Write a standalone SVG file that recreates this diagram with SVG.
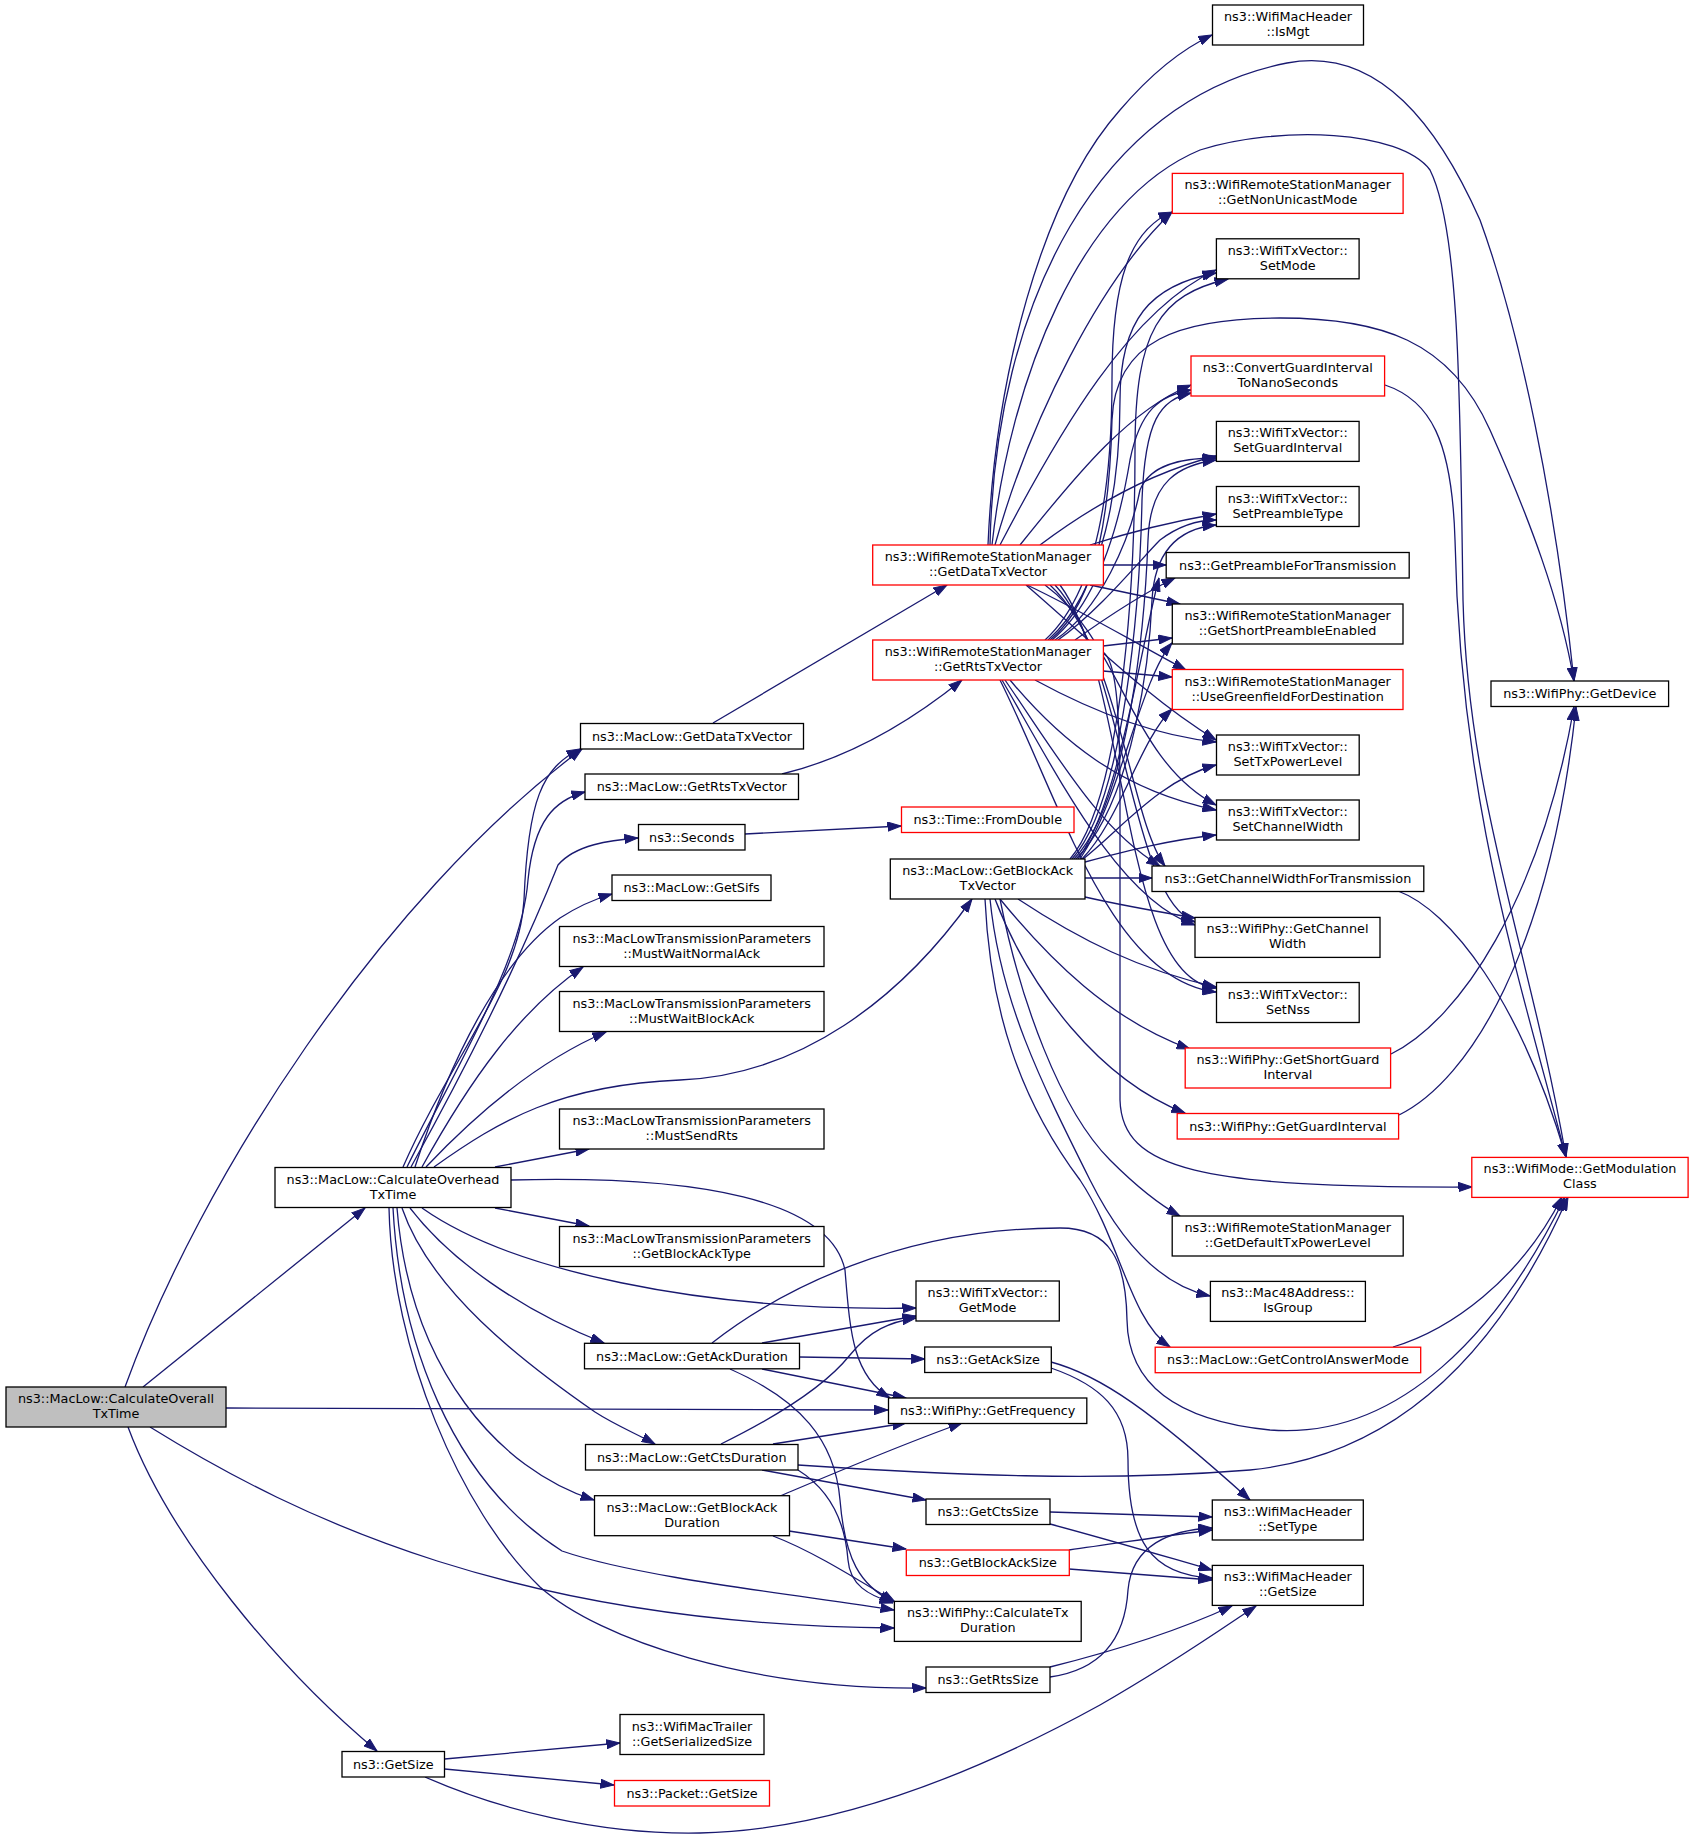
<svg xmlns="http://www.w3.org/2000/svg" width="1693" height="1840" viewBox="0 0 1693 1840">
<style>
.n rect{fill:#fff;stroke:#000;stroke-width:1.3}
.n.r rect{stroke:#f00}
.n.root rect{fill:#bfbfbf}
.n text{font-family:"DejaVu Sans","Liberation Sans",sans-serif;font-size:12.8px;text-anchor:middle;fill:#000}
#edges path{fill:none;stroke:#191970;stroke-width:1.3;marker-end:url(#ah)}
</style>
<defs>
<marker id="ah" markerUnits="userSpaceOnUse" markerWidth="14" markerHeight="10" refX="13.5" refY="5" orient="auto" viewBox="0 0 14 10"><path d="M0,0.4 L13.5,5 L0,9.6 Z" fill="#191970" stroke="#191970" stroke-width="1"/></marker>
</defs>
<rect width="1693" height="1840" fill="#fff"/>
<g id="edges">
<path d="M125,1387 C200,1180 380,900 582,749"/>
<path d="M143,1387 L365,1208"/>
<path d="M226,1408 L888,1410"/>
<path d="M150,1427 C300,1520 520,1625 894,1628"/>
<path d="M128,1427 C170,1540 280,1670 377,1751"/>
<path d="M403,1167 C450,1060 520,980 524,900 C528,800 542,768 580,749"/>
<path d="M407,1167 C460,1060 522,960 528,880 C534,820 555,800 585,792"/>
<path d="M411,1167 C470,1060 520,960 558,865 C575,845 610,840 638,838"/>
<path d="M415,1167 C450,1060 500,960 560,918 C580,905 595,899 612,894"/>
<path d="M422,1167 C470,1080 520,1010 583,967"/>
<path d="M426,1167 C480,1110 540,1060 606,1032"/>
<path d="M434,1167 C500,1120 560,1085 680,1080 C800,1075 900,1000 972,899"/>
<path d="M495,1167 L589,1149"/>
<path d="M511,1180 C700,1175 830,1200 845,1270 C850,1330 852,1375 890,1398"/>
<path d="M495,1208 L589,1226"/>
<path d="M422,1208 C510,1270 700,1312 916,1308"/>
<path d="M410,1208 C450,1260 520,1310 604,1343"/>
<path d="M402,1208 C430,1290 520,1360 595,1412 C615,1425 635,1433 655,1444"/>
<path d="M397,1208 C410,1370 500,1470 594,1500"/>
<path d="M393,1208 C400,1340 450,1480 562,1551 C640,1578 800,1595 894,1610"/>
<path d="M389,1208 C392,1350 460,1510 540,1587 C600,1640 750,1690 926,1688"/>
<path d="M762,1343 L916,1316"/>
<path d="M799,1357 L924.7,1359"/>
<path d="M762,1369 L906,1398"/>
<path d="M730,1369 C800,1400 835,1440 840,1500 C845,1560 860,1585 893,1602"/>
<path d="M712,1343 C780,1290 900,1228 1060,1228 C1110,1228 1126,1260 1127,1320 C1128,1380 1170,1420 1270,1430 C1400,1440 1500,1330 1565,1197"/>
<path d="M721,1444 C790,1410 830,1380 850,1355 C870,1330 890,1322 916,1318"/>
<path d="M773,1444 L906,1423"/>
<path d="M798,1465 C950,1475 1100,1482 1250,1470 C1400,1455 1500,1350 1568,1197"/>
<path d="M762,1470 L926,1500"/>
<path d="M798,1470 C830,1490 845,1520 848,1560 C850,1585 868,1595 893,1603"/>
<path d="M780,1496 C830,1475 900,1445 962,1423"/>
<path d="M789,1531 L906,1549"/>
<path d="M773,1536 C810,1550 850,1575 895,1602"/>
<path d="M1051,1362 C1100,1375 1150,1410 1250,1500"/>
<path d="M1051,1368 C1100,1385 1128,1410 1128,1460 C1128,1540 1150,1575 1212,1578"/>
<path d="M1050,1512 L1212,1517"/>
<path d="M1050,1524 C1110,1540 1160,1555 1212,1570"/>
<path d="M1069,1550 C1120,1543 1170,1535 1212,1530"/>
<path d="M1069,1569 L1212,1580"/>
<path d="M1050,1677 C1100,1670 1125,1640 1128,1590 C1132,1545 1170,1530 1212,1528"/>
<path d="M1050,1667 C1110,1652 1180,1630 1232,1606"/>
<path d="M444.6,1759 L620,1743"/>
<path d="M444.6,1769 L614,1785"/>
<path d="M425,1777 C500,1810 600,1835 700,1833 C850,1830 1000,1760 1100,1705 C1170,1665 1220,1630 1256,1606"/>
<path d="M713,723 L947,585"/>
<path d="M782,774 C840,760 900,730 962,680"/>
<path d="M745,834 L901,826"/>
<path d="M988,545 C995,380 1040,200 1120,110 C1150,75 1180,50 1212,35"/>
<path d="M990,545 C995,300 1100,100 1287,63 C1380,45 1440,130 1480,220 C1520,330 1555,500 1574,681"/>
<path d="M992,545 C1010,380 1080,200 1200,150 C1280,125 1400,130 1430,170 C1460,230 1460,400 1463,600 C1468,800 1530,950 1566,1157"/>
<path d="M995,545 C1030,420 1100,280 1172,212"/>
<path d="M1000,545 C1060,430 1130,310 1216,270"/>
<path d="M1020,545 C1080,470 1130,410 1191,385"/>
<path d="M1040,545 C1100,500 1160,470 1216,456"/>
<path d="M1090,545 C1130,532 1170,522 1216,514"/>
<path d="M1103,565 L1166,565"/>
<path d="M1090,585 L1180,604"/>
<path d="M1027,585 C1080,610 1130,640 1186,670"/>
<path d="M1026,585 C1090,640 1150,700 1216,740"/>
<path d="M1045,585 C1120,640 1130,760 1216,805"/>
<path d="M1050,585 C1120,650 1130,820 1165,866"/>
<path d="M1055,585 C1125,660 1130,900 1195,922"/>
<path d="M1060,585 C1130,680 1120,980 1216,988"/>
<path d="M1045,640 C1100,590 1112,480 1112,380 C1112,280 1130,230 1172,212"/>
<path d="M1048,640 C1105,590 1120,480 1120,400 C1120,320 1150,285 1216,273"/>
<path d="M1050,640 C1100,600 1110,500 1112,420 C1115,340 1180,318 1280,318 C1380,318 1450,340 1490,430 C1530,520 1560,600 1574,681"/>
<path d="M1052,640 C1100,600 1120,520 1130,460 C1140,410 1160,395 1191,390"/>
<path d="M1055,640 C1100,610 1130,540 1140,490 C1150,465 1180,458 1216,458"/>
<path d="M1058,640 C1100,610 1140,560 1160,540 C1180,525 1200,520 1216,520"/>
<path d="M1075,640 C1110,615 1140,595 1175,578"/>
<path d="M1103,646 L1172,638"/>
<path d="M1103,671 L1172,677"/>
<path d="M1035,680 C1090,710 1150,735 1216,742"/>
<path d="M1010,680 C1060,740 1120,790 1216,810"/>
<path d="M1005,680 C1060,760 1100,830 1160,866"/>
<path d="M1002,680 C1060,780 1120,900 1195,925"/>
<path d="M1000,680 C1060,800 1110,980 1216,992"/>
<path d="M1103,652 C1115,660 1120,700 1120,800 L1120,1100 C1122,1170 1200,1188 1472,1187"/>
<path d="M1070,859 C1120,800 1135,600 1135,450 C1135,330 1160,295 1228,279"/>
<path d="M1072,859 C1125,800 1140,600 1142,500 C1145,420 1160,400 1191,393"/>
<path d="M1074,859 C1130,800 1145,620 1148,540 C1150,480 1180,465 1216,460"/>
<path d="M1076,859 C1135,800 1150,650 1152,600 C1155,545 1185,528 1216,525"/>
<path d="M1078,859 C1120,800 1140,650 1159,578"/>
<path d="M1080,859 C1120,800 1140,680 1172,643"/>
<path d="M1082,859 C1120,820 1140,740 1172,709"/>
<path d="M1083,859 C1120,830 1160,780 1216,765"/>
<path d="M1085,862 C1130,850 1170,840 1216,835"/>
<path d="M1085,878 L1152,878"/>
<path d="M1085,897 C1120,905 1160,912 1195,918"/>
<path d="M1018,899 C1080,940 1140,970 1216,987"/>
<path d="M1000,899 C1050,960 1110,1020 1190,1049"/>
<path d="M995,899 C1030,990 1100,1080 1185,1113"/>
<path d="M1000,899 C1020,1000 1060,1110 1110,1160 C1140,1190 1160,1205 1180,1216"/>
<path d="M990,899 C1000,1000 1040,1080 1090,1180 C1120,1240 1160,1285 1210,1296"/>
<path d="M985,899 C990,1010 1020,1100 1080,1180 C1120,1240 1130,1320 1170,1347"/>
<path d="M1385,385 C1430,400 1452,440 1455,540 C1460,800 1520,980 1566,1157"/>
<path d="M1398,891 C1450,910 1520,1000 1566,1157"/>
<path d="M1391,1054 C1460,1020 1540,900 1574,707"/>
<path d="M1399,1115 C1470,1080 1550,950 1576,707"/>
<path d="M1393,1347 C1450,1330 1520,1280 1562,1197"/>
</g>
<g id="n_A" class="n root"><rect x="6" y="1387" width="220" height="40"/><text x="116" y="1403">ns3::MacLow::CalculateOverall</text><text x="116" y="1418">TxTime</text></g>
<g id="n_B" class="n"><rect x="275" y="1167.5" width="236" height="40"/><text x="393" y="1183.5">ns3::MacLow::CalculateOverhead</text><text x="393" y="1198.5">TxTime</text></g>
<g id="n_F" class="n"><rect x="342" y="1751.5" width="102.5" height="25.5"/><text x="393.25" y="1768.75">ns3::GetSize</text></g>
<g id="n_MLGDTV" class="n"><rect x="580.5" y="723.5" width="223" height="25.5"/><text x="692" y="740.75">ns3::MacLow::GetDataTxVector</text></g>
<g id="n_MLGRTV" class="n"><rect x="585" y="774" width="213.5" height="25.5"/><text x="691.75" y="791.25">ns3::MacLow::GetRtsTxVector</text></g>
<g id="n_Seconds" class="n"><rect x="638.5" y="824.5" width="106.5" height="25.5"/><text x="691.75" y="841.75">ns3::Seconds</text></g>
<g id="n_GetSifs" class="n"><rect x="612" y="875" width="159" height="25.5"/><text x="691.5" y="892.25">ns3::MacLow::GetSifs</text></g>
<g id="n_MWNA" class="n"><rect x="559.5" y="926.5" width="264.5" height="40"/><text x="691.75" y="942.5">ns3::MacLowTransmissionParameters</text><text x="691.75" y="957.5">::MustWaitNormalAck</text></g>
<g id="n_MWBA" class="n"><rect x="559.5" y="991.5" width="264.5" height="40"/><text x="691.75" y="1007.5">ns3::MacLowTransmissionParameters</text><text x="691.75" y="1022.5">::MustWaitBlockAck</text></g>
<g id="n_MSR" class="n"><rect x="559.5" y="1109" width="264.5" height="40"/><text x="691.75" y="1125">ns3::MacLowTransmissionParameters</text><text x="691.75" y="1140">::MustSendRts</text></g>
<g id="n_GBAT" class="n"><rect x="559.5" y="1226.5" width="264.5" height="40"/><text x="691.75" y="1242.5">ns3::MacLowTransmissionParameters</text><text x="691.75" y="1257.5">::GetBlockAckType</text></g>
<g id="n_GAD" class="n"><rect x="584.5" y="1343.3" width="215" height="25.5"/><text x="692" y="1360.5">ns3::MacLow::GetAckDuration</text></g>
<g id="n_GCD" class="n"><rect x="585.5" y="1444.5" width="212.5" height="25.5"/><text x="691.75" y="1461.75">ns3::MacLow::GetCtsDuration</text></g>
<g id="n_GBAD" class="n"><rect x="594.5" y="1495.7" width="195" height="40"/><text x="692" y="1511.7">ns3::MacLow::GetBlockAck</text><text x="692" y="1526.7">Duration</text></g>
<g id="n_WMT" class="n"><rect x="620" y="1714.5" width="144" height="40"/><text x="692" y="1730.5">ns3::WifiMacTrailer</text><text x="692" y="1745.5">::GetSerializedSize</text></g>
<g id="n_PGS" class="n r"><rect x="614.5" y="1780.5" width="155" height="25.5"/><text x="692" y="1797.75">ns3::Packet::GetSize</text></g>
<g id="n_G" class="n r"><rect x="872.7" y="545" width="230.7" height="40"/><text x="988" y="561">ns3::WifiRemoteStationManager</text><text x="988" y="576">::GetDataTxVector</text></g>
<g id="n_H" class="n r"><rect x="872.7" y="640" width="230.7" height="40"/><text x="988" y="656">ns3::WifiRemoteStationManager</text><text x="988" y="671">::GetRtsTxVector</text></g>
<g id="n_TFD" class="n r"><rect x="901.5" y="807" width="172.5" height="25.5"/><text x="987.75" y="824.25">ns3::Time::FromDouble</text></g>
<g id="n_I" class="n"><rect x="890.3" y="859" width="194.7" height="40"/><text x="987.65" y="875">ns3::MacLow::GetBlockAck</text><text x="987.65" y="890">TxVector</text></g>
<g id="n_GM" class="n"><rect x="916" y="1281" width="143.3" height="40"/><text x="987.65" y="1297">ns3::WifiTxVector::</text><text x="987.65" y="1312">GetMode</text></g>
<g id="n_GAS" class="n"><rect x="924.7" y="1347" width="126.6" height="25.5"/><text x="988" y="1364.25">ns3::GetAckSize</text></g>
<g id="n_GFreq" class="n"><rect x="888.5" y="1398" width="198.3" height="25.5"/><text x="987.65" y="1415.25">ns3::WifiPhy::GetFrequency</text></g>
<g id="n_GCS" class="n"><rect x="926" y="1499" width="124" height="25.5"/><text x="988" y="1516.25">ns3::GetCtsSize</text></g>
<g id="n_GBAS" class="n r"><rect x="906.3" y="1550" width="163" height="25.5"/><text x="987.8" y="1567.25">ns3::GetBlockAckSize</text></g>
<g id="n_CTD" class="n"><rect x="894.4" y="1601.4" width="186.8" height="40"/><text x="987.8" y="1617.4">ns3::WifiPhy::CalculateTx</text><text x="987.8" y="1632.4">Duration</text></g>
<g id="n_GRS" class="n"><rect x="926" y="1667" width="124" height="25.5"/><text x="988" y="1684.25">ns3::GetRtsSize</text></g>
<g id="n_IsMgt" class="n"><rect x="1212.5" y="5" width="151" height="40"/><text x="1288" y="21">ns3::WifiMacHeader</text><text x="1288" y="36">::IsMgt</text></g>
<g id="n_GNUM" class="n r"><rect x="1172.3" y="173.4" width="230.8" height="40"/><text x="1287.7" y="189.4">ns3::WifiRemoteStationManager</text><text x="1287.7" y="204.4">::GetNonUnicastMode</text></g>
<g id="n_SetMode" class="n"><rect x="1216.4" y="238.8" width="142.7" height="40"/><text x="1287.75" y="254.8">ns3::WifiTxVector::</text><text x="1287.75" y="269.8">SetMode</text></g>
<g id="n_CGI" class="n r"><rect x="1191" y="356" width="193.6" height="40"/><text x="1287.8" y="372">ns3::ConvertGuardInterval</text><text x="1287.8" y="387">ToNanoSeconds</text></g>
<g id="n_SetGI" class="n"><rect x="1216.4" y="421.4" width="142.7" height="40"/><text x="1287.75" y="437.4">ns3::WifiTxVector::</text><text x="1287.75" y="452.4">SetGuardInterval</text></g>
<g id="n_SetPT" class="n"><rect x="1216.4" y="486.5" width="142.7" height="40"/><text x="1287.75" y="502.5">ns3::WifiTxVector::</text><text x="1287.75" y="517.5">SetPreambleType</text></g>
<g id="n_GPFT" class="n"><rect x="1166.2" y="552.5" width="243" height="25.5"/><text x="1287.7" y="569.75">ns3::GetPreambleForTransmission</text></g>
<g id="n_GSPE" class="n"><rect x="1172.3" y="604" width="230.7" height="40"/><text x="1287.65" y="620">ns3::WifiRemoteStationManager</text><text x="1287.65" y="635">::GetShortPreambleEnabled</text></g>
<g id="n_UGFD" class="n r"><rect x="1172.3" y="669.5" width="230.7" height="40"/><text x="1287.65" y="685.5">ns3::WifiRemoteStationManager</text><text x="1287.65" y="700.5">::UseGreenfieldForDestination</text></g>
<g id="n_STPL" class="n"><rect x="1216.5" y="735" width="142.7" height="40"/><text x="1287.85" y="751">ns3::WifiTxVector::</text><text x="1287.85" y="766">SetTxPowerLevel</text></g>
<g id="n_SCW" class="n"><rect x="1216.5" y="800" width="142.7" height="40"/><text x="1287.85" y="816">ns3::WifiTxVector::</text><text x="1287.85" y="831">SetChannelWidth</text></g>
<g id="n_GCWFT" class="n"><rect x="1152" y="866" width="271.8" height="25.5"/><text x="1287.9" y="883.25">ns3::GetChannelWidthForTransmission</text></g>
<g id="n_GCW" class="n"><rect x="1195" y="917.4" width="185" height="40"/><text x="1287.5" y="933.4">ns3::WifiPhy::GetChannel</text><text x="1287.5" y="948.4">Width</text></g>
<g id="n_SetNss" class="n"><rect x="1216.5" y="982.5" width="142.7" height="40"/><text x="1287.85" y="998.5">ns3::WifiTxVector::</text><text x="1287.85" y="1013.5">SetNss</text></g>
<g id="n_GSGI" class="n r"><rect x="1185.2" y="1048" width="205.4" height="40"/><text x="1287.9" y="1064">ns3::WifiPhy::GetShortGuard</text><text x="1287.9" y="1079">Interval</text></g>
<g id="n_GGI" class="n r"><rect x="1177.2" y="1113.5" width="221.4" height="25.5"/><text x="1287.9" y="1130.75">ns3::WifiPhy::GetGuardInterval</text></g>
<g id="n_GDTPL" class="n"><rect x="1172.2" y="1216" width="231" height="40"/><text x="1287.7" y="1232">ns3::WifiRemoteStationManager</text><text x="1287.7" y="1247">::GetDefaultTxPowerLevel</text></g>
<g id="n_IsGroup" class="n"><rect x="1210.4" y="1281.4" width="155" height="40"/><text x="1287.9" y="1297.4">ns3::Mac48Address::</text><text x="1287.9" y="1312.4">IsGroup</text></g>
<g id="n_GCAM" class="n r"><rect x="1155.2" y="1347.2" width="265.5" height="25.5"/><text x="1287.95" y="1364.45">ns3::MacLow::GetControlAnswerMode</text></g>
<g id="n_SetType" class="n"><rect x="1212.3" y="1500" width="151" height="40"/><text x="1287.8" y="1516">ns3::WifiMacHeader</text><text x="1287.8" y="1531">::SetType</text></g>
<g id="n_WMHGS" class="n"><rect x="1212.3" y="1565.4" width="151" height="40"/><text x="1287.8" y="1581.4">ns3::WifiMacHeader</text><text x="1287.8" y="1596.4">::GetSize</text></g>
<g id="n_GetDevice" class="n"><rect x="1491" y="681" width="177.6" height="25.5"/><text x="1579.8" y="698.25">ns3::WifiPhy::GetDevice</text></g>
<g id="n_GMC" class="n r"><rect x="1471.8" y="1157.4" width="216.3" height="40"/><text x="1579.95" y="1173.4">ns3::WifiMode::GetModulation</text><text x="1579.95" y="1188.4">Class</text></g>
</svg>
